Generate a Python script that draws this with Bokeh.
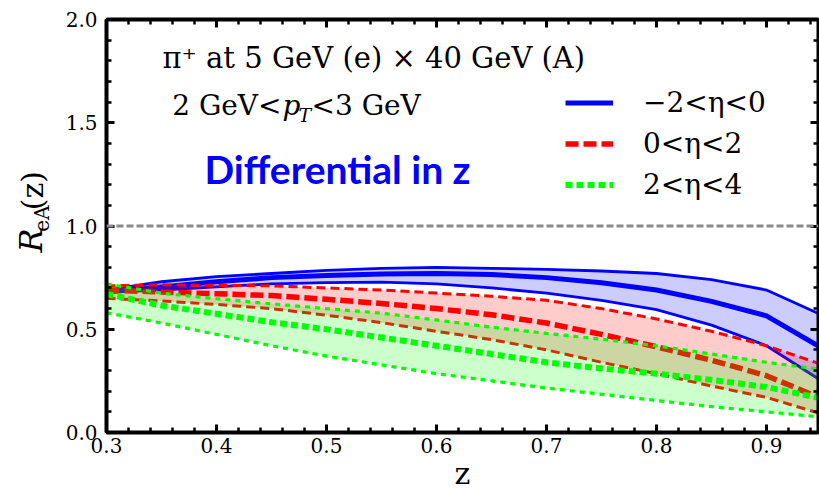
from bokeh.plotting import figure
from bokeh.layouts import row
from bokeh.models import (Label, Span, Legend, LegendItem, LinearAxis,
                          SingleIntervalTicker, NumeralTickFormatter, Range1d,
                          ColumnDataSource)
from bokeh.core.properties import value
from bokeh.embed import file_html
from bokeh.resources import INLINE

# ---------------- data ----------------
z = [0.30, 0.35, 0.40, 0.45, 0.50, 0.55, 0.60, 0.65, 0.70, 0.75, 0.80, 0.85, 0.90, 0.95]

# -2 < eta < 0  (blue, solid)
blue_hi  = [0.69, 0.73, 0.755, 0.77, 0.785, 0.795, 0.80, 0.795, 0.79, 0.782, 0.77, 0.74, 0.69, 0.57]
blue_mid = [0.68, 0.705, 0.73, 0.75, 0.76, 0.768, 0.77, 0.765, 0.75, 0.725, 0.69, 0.635, 0.565, 0.41]
blue_lo  = [0.68, 0.69, 0.705, 0.72, 0.726, 0.728, 0.72, 0.70, 0.675, 0.64, 0.595, 0.52, 0.42, 0.25]

# 0 < eta < 2  (red, dashed)
red_hi  = [0.71, 0.715, 0.713, 0.71, 0.70, 0.69, 0.675, 0.66, 0.64, 0.60, 0.55, 0.49, 0.42, 0.33]
red_mid = [0.69, 0.68, 0.672, 0.663, 0.645, 0.625, 0.60, 0.57, 0.53, 0.475, 0.415, 0.35, 0.275, 0.165]
red_lo  = [0.65, 0.637, 0.62, 0.60, 0.568, 0.532, 0.49, 0.45, 0.40, 0.34, 0.285, 0.225, 0.17, 0.09]

# 2 < eta < 4  (green, dotted)
green_hi  = [0.72, 0.675, 0.648, 0.623, 0.60, 0.578, 0.545, 0.51, 0.48, 0.452, 0.42, 0.38, 0.34, 0.305]
green_mid = [0.67, 0.615, 0.575, 0.534, 0.50, 0.46, 0.42, 0.38, 0.34, 0.31, 0.285, 0.255, 0.22, 0.165]
green_lo  = [0.58, 0.53, 0.475, 0.42, 0.37, 0.327, 0.285, 0.25, 0.215, 0.185, 0.155, 0.125, 0.10, 0.075]

series_labels = ["\u22122<\u03b7<0", "0<\u03b7<2", "2<\u03b7<4"]
reference_level = 1.0

# ---------------- layout ----------------
W, H = 819, 498
LW = 56                                      # strip holding the y title
FL, FR, FT, FB = 106, 818, 19, 432           # frame edges in page pixels
X0 = 0.3
XPX = 1100.0                                 # pixels per unit of z
X1 = X0 + (FR - FL) / XPX
Y0, Y1 = 0.0, 2.0
YPX = (FB - FT) / (Y1 - Y0)
MID = 0.35                                   # baseline lies ~0.35 em below the text middle

def dx(px):   # page pixel column -> data x
    return X0 + (px - FL) / XPX

def dy(py):   # page pixel row -> data y
    return Y0 + (FB - py) / YPX

def mid(baseline_py, size):   # page row of the text middle for a given baseline
    return baseline_py - MID * size

SERIF = "DejaVu Serif"

p = figure(width=W - LW, height=H, x_range=Range1d(X0, X1), y_range=Range1d(Y0, Y1),
           output_backend="svg", toolbar_location=None,
           x_axis_location=None, y_axis_location=None,
           min_border_left=FL - LW, min_border_right=W - FR,
           min_border_top=FT, min_border_bottom=H - FB)
p.xgrid.visible = False
p.ygrid.visible = False
p.outline_line_color = "black"
p.outline_line_width = 2
p.background_fill_color = "white"
p.border_fill_color = "white"

src = ColumnDataSource(dict(z=z, blue_hi=blue_hi, blue_mid=blue_mid, blue_lo=blue_lo,
                            red_hi=red_hi, red_mid=red_mid, red_lo=red_lo,
                            green_hi=green_hi, green_mid=green_mid, green_lo=green_lo))

# reference line at 1
p.add_layout(Span(location=reference_level, dimension="width", line_color="#8a8a8a",
                  line_width=3, line_dash="7 3"))

# blue band
p.varea(x="z", y1="blue_lo", y2="blue_hi", source=src, fill_color="#0000ff", fill_alpha=0.2)
p.line("z", "blue_hi", source=src, line_color="#0000ff", line_width=2.8)
p.line("z", "blue_lo", source=src, line_color="#0000ff", line_width=2.8)
r_blue = p.line("z", "blue_mid", source=src, line_color="#0000ff", line_width=5)

# red band
p.varea(x="z", y1="red_lo", y2="red_hi", source=src, fill_color="#ff0000", fill_alpha=0.2)
p.line("z", "red_hi", source=src, line_color="#ff0000", line_width=3, line_dash="9 5")
p.line("z", "red_lo", source=src, line_color="#ff0000", line_width=3, line_dash="9 5")
r_red = p.line("z", "red_mid", source=src, line_color="#ff0000", line_width=5.5, line_dash="13 5")

# green band
p.varea(x="z", y1="green_lo", y2="green_hi", source=src, fill_color="#00ff00", fill_alpha=0.2)
p.line("z", "green_hi", source=src, line_color="#00ff00", line_width=3.2, line_dash="5 5")
p.line("z", "green_lo", source=src, line_color="#00ff00", line_width=3.2, line_dash="5 5")
r_green = p.line("z", "green_mid", source=src, line_color="#00ff00", line_width=6, line_dash="7 4")

# ---------------- axes (frame with inward ticks) ----------------
def make_axis(interval, show_labels, standoff):
    ax = LinearAxis(ticker=SingleIntervalTicker(interval=interval, num_minor_ticks=5),
                    formatter=NumeralTickFormatter(format="0.0"))
    ax.axis_line_width = 4
    ax.axis_line_color = "black"
    ax.major_tick_in = 8
    ax.major_tick_out = 0
    ax.minor_tick_in = 5
    ax.minor_tick_out = 0
    ax.major_tick_line_width = 3
    ax.minor_tick_line_width = 2.5
    ax.major_tick_line_color = "black"
    ax.minor_tick_line_color = "black"
    if show_labels:
        ax.major_label_text_font = SERIF
        ax.major_label_text_font_size = "20px"
        ax.major_label_text_color = "black"
        ax.major_label_standoff = standoff
    else:
        ax.major_label_text_color = None
        ax.major_label_text_font_size = "1px"
        ax.major_label_standoff = 0
    return ax

xax = make_axis(0.1, True, 5)
xax.axis_label = "z"
xax.axis_label_text_font = SERIF
xax.axis_label_text_font_style = "normal"
xax.axis_label_text_font_size = "30px"
xax.axis_label_text_color = "black"
xax.axis_label_standoff = 0
p.add_layout(xax, "below")
p.add_layout(make_axis(0.5, True, 9), "left")
p.add_layout(make_axis(0.1, False, 0), "above")
p.add_layout(make_axis(0.5, False, 0), "right")

# ---------------- annotations ----------------
def note(px, base_py, text, size, font=SERIF, style="normal", align="left", color="black"):
    p.add_layout(Label(x=dx(px), y=dy(mid(base_py, size)), text=text, text_font=font,
                       text_font_style=style, text_font_size=f"{size}px",
                       text_align=align, text_baseline="middle", text_color=color))

note(162, 68, "\u03c0\u207a at 5 GeV (e) \u00d7 40 GeV (A)", 29)
note(281, 115, "2 GeV<", 28, align="right")
note(282, 115, "p", 28, style="italic")
note(298, 121, "T", 19, style="italic")
note(311, 115, "<3 GeV", 28)
note(204, 182, "Differential in z", 39, font="Lato", style="bold", color="#0000ff")

# ---------------- legend ----------------
legend = Legend(items=[LegendItem(label=series_labels[0], renderers=[r_blue]),
                       LegendItem(label=series_labels[1], renderers=[r_red]),
                       LegendItem(label=series_labels[2], renderers=[r_green])],
                location=(565 - FL, FB - 205))
legend.glyph_width = 48
legend.glyph_height = 41
legend.label_height = 41
legend.spacing = 0
legend.padding = 0
legend.margin = 0
legend.label_standoff = 30
legend.label_text_font = SERIF
legend.label_text_font_size = "28px"
legend.label_text_color = "black"
legend.border_line_color = None
legend.background_fill_alpha = 0
p.add_layout(legend)

# ---------------- y title strip: R_eA(z), rotated, reading upwards ----------------
t = figure(width=LW, height=H, x_range=Range1d(0, LW), y_range=Range1d(0, H),
           output_backend="svg", toolbar_location=None,
           x_axis_location=None, y_axis_location=None,
           min_border_left=0, min_border_right=0, min_border_top=0, min_border_bottom=0)
t.xgrid.visible = False
t.ygrid.visible = False
t.outline_line_color = None
t.background_fill_color = "white"
t.border_fill_color = "white"
ang = 1.5707963267948966

def vpiece(base_px, start_py, text, size, style="normal"):
    t.text(x=[base_px - MID * size], y=[H - start_py], text=[text], angle=ang,
           text_font=value(SERIF), text_font_style=style, text_font_size=f"{size}px",
           text_align="left", text_baseline="middle", text_color="black")

vpiece(42, 281, "R", 32, style="italic")
vpiece(48, 256, "eA", 20)
vpiece(42, 230, "(z)", 30)

layout = row(t, p, spacing=0)
open("out.html", "w").write(file_html(layout, INLINE))
